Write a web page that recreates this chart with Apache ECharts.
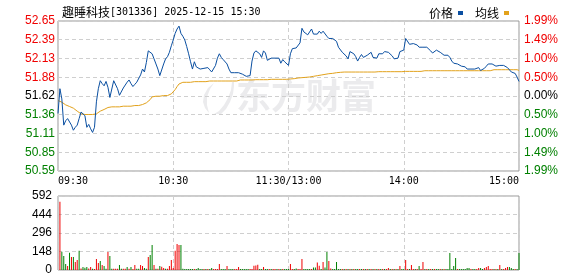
<!DOCTYPE html>
<html><head><meta charset="utf-8">
<script src="https://cdn.jsdelivr.net/npm/echarts@6/dist/echarts.min.js"></script>
<style>html,body{margin:0;padding:0;background:#fff}#c{width:578px;height:276px}</style>
</head><body><div id="c"></div>
<script>
const stockName = '趣睡科技';
const stockMeta = '[301336] 2025-12-15 15:30';
const seriesNames = ['价格', '均线'];
const watermarkText = '东方财富';
const timeLabels = ['09:30', '10:30', '11:30/13:00', '14:00', '15:00'];
const priceTicks = ['50.59', '50.85', '51.11', '51.36', '51.62', '51.88', '52.13', '52.39', '52.65'];
const pctTicks = ['1.99%', '1.49%', '1.00%', '0.50%', '0.00%', '0.50%', '1.00%', '1.49%', '1.99%'];
const volTicks = ['0', '148', '296', '444', '592'];
const prevClose = 51.62;
const priceMin = 50.59, priceMax = 52.65;
const pctMin = -1.99, pctMax = 1.99;
const volMax = 592;

const price = [
51.38,51.72,51.58,51.22,51.28,51.31,51.31,51.22,51.15,51.19,
51.22,51.31,51.40,51.40,51.35,51.19,51.23,51.17,51.12,51.19,
51.54,51.72,51.83,51.79,51.76,51.82,51.74,51.60,51.58,51.83,
51.85,51.72,51.63,51.64,51.73,51.74,51.81,51.84,51.79,51.75,
51.78,51.81,51.82,51.91,51.99,51.95,52.08,52.24,52.22,52.20,
52.13,52.06,51.99,51.90,51.89,52.06,52.13,52.16,52.22,52.31,
52.39,52.48,52.54,52.58,52.48,52.44,52.39,52.30,52.20,52.09,
51.99,52.09,52.02,52.03,51.99,51.99,52.00,52.01,52.01,51.98,
51.95,51.94,52.04,52.14,52.20,52.15,52.12,52.10,52.06,51.99,
51.94,51.93,51.94,51.95,51.94,51.94,51.92,51.92,51.89,51.87,
51.90,52.10,52.21,52.24,52.23,52.20,52.15,52.24,52.21,52.11,
52.13,52.14,52.14,52.14,52.12,52.14,52.07,52.12,52.09,52.07,
52.04,52.20,52.27,52.27,52.28,52.30,52.35,52.55,52.50,52.48,
52.46,52.45,52.54,52.47,52.49,52.47,52.51,52.48,52.51,52.49,
52.44,52.41,52.41,52.41,52.39,52.37,52.29,52.27,52.22,52.20,
52.17,52.13,52.23,52.22,52.20,52.16,52.10,52.15,52.19,52.15,
52.15,52.18,52.19,52.22,52.15,52.13,52.14,52.20,52.22,52.20,
52.23,52.25,52.22,52.20,52.17,52.13,52.14,52.14,52.23,52.23,
52.25,52.41,52.42,52.33,52.33,52.34,52.34,52.32,52.29,52.29,
52.29,52.29,52.29,52.29,52.24,52.21,52.23,52.25,52.23,52.22,
52.21,52.18,52.18,52.18,52.15,52.10,52.07,52.06,52.06,52.04,
52.03,52.03,52.02,51.99,51.97,51.99,51.99,51.99,52.00,52.01,
51.97,51.99,52.00,52.03,52.06,52.07,52.06,52.04,52.03,52.03,
52.04,52.04,52.04,52.04,52.01,51.99,51.95,51.94,51.93,51.88,
51.82
];

const avgPrice = [
51.558,51.544,51.535,51.517,51.498,51.489,51.476,51.462,51.453,51.435,
51.412,51.389,51.375,51.366,51.366,51.366,51.366,51.366,51.366,51.366,
51.375,51.394,51.412,51.421,51.435,51.448,51.462,51.466,51.471,51.471,
51.471,51.471,51.471,51.471,51.480,51.480,51.480,51.480,51.480,51.489,
51.489,51.489,51.489,51.498,51.503,51.512,51.526,51.544,51.571,51.608,
51.617,51.617,51.617,51.617,51.617,51.626,51.626,51.626,51.635,51.649,
51.671,51.708,51.749,51.785,51.808,51.808,51.808,51.808,51.808,51.808,
51.808,51.817,51.817,51.817,51.817,51.817,51.817,51.817,51.817,51.826,
51.826,51.826,51.826,51.826,51.826,51.826,51.826,51.826,51.826,51.826,
51.826,51.826,51.826,51.826,51.826,51.840,51.840,51.840,51.840,51.840,
51.840,51.840,51.844,51.844,51.844,51.844,51.844,51.844,51.844,51.844,
51.844,51.849,51.849,51.849,51.849,51.849,51.849,51.849,51.849,51.849,
51.849,51.854,51.858,51.858,51.863,51.867,51.867,51.872,51.872,51.876,
51.876,51.881,51.885,51.890,51.894,51.899,51.904,51.908,51.913,51.917,
51.922,51.926,51.931,51.931,51.935,51.940,51.940,51.945,51.949,51.949,
51.949,51.949,51.949,51.949,51.949,51.949,51.949,51.949,51.949,51.949,
51.949,51.949,51.949,51.949,51.949,51.949,51.954,51.954,51.954,51.954,
51.954,51.954,51.954,51.954,51.954,51.954,51.954,51.954,51.954,51.954,
51.954,51.958,51.958,51.958,51.958,51.958,51.958,51.958,51.958,51.958,
51.958,51.967,51.967,51.967,51.967,51.967,51.967,51.967,51.967,51.967,
51.967,51.967,51.967,51.967,51.967,51.967,51.967,51.967,51.967,51.967,
51.967,51.967,51.967,51.967,51.967,51.967,51.967,51.967,51.967,51.967,
51.967,51.967,51.967,51.967,51.967,51.967,51.981,51.981,51.981,51.981,
51.981,51.981,51.981,51.981,51.981,51.981,51.981,51.981,51.981,51.981,
51.972
];

const volume = [
0,
547,147,112,48,32,139,104,104,64,80,
155,13,24,19,24,13,24,11,8,88,
56,72,40,32,11,145,113,11,11,11,
11,40,11,11,11,24,11,24,8,40,
11,11,40,32,16,11,105,120,201,40,
11,11,32,27,16,11,11,32,80,16,
155,208,200,200,11,8,8,8,8,8,
8,8,16,8,8,8,8,8,8,16,
8,8,8,48,8,8,8,32,8,8,
8,8,8,24,8,8,8,8,8,8,
8,35,37,43,8,8,24,8,8,8,
8,8,8,8,8,8,8,8,8,8,
48,8,8,13,8,8,88,8,8,8,
8,8,21,21,61,35,8,64,21,144,
72,13,8,8,64,8,8,8,8,8,
8,8,8,8,8,8,8,8,8,8,
8,8,8,8,8,8,8,8,8,8,
8,16,8,8,8,8,8,32,8,8,
80,8,8,40,8,8,8,32,8,64,
8,8,8,8,8,8,8,8,8,8,
8,8,8,136,8,32,96,8,8,8,
8,8,16,16,8,8,8,8,16,16,
8,16,24,32,8,8,8,8,8,40,
8,8,16,24,24,16,8,8,8,136
];

const volDir = [
1,
1,-1,-1,-1,1,-1,1,-1,1,1,
-1,1,-1,-1,-1,1,1,-1,1,1,
1,-1,1,-1,-1,1,-1,-1,1,1,
1,-1,-1,1,1,-1,1,-1,1,1,
-1,-1,1,1,-1,-1,1,-1,-1,1,
-1,1,-1,1,1,-1,1,1,1,1,
1,1,1,-1,-1,-1,-1,-1,-1,-1,
1,-1,-1,-1,-1,1,-1,1,-1,-1,
1,1,1,1,-1,-1,-1,1,-1,-1,
-1,1,1,1,-1,-1,-1,-1,-1,1,
1,1,1,1,-1,-1,1,-1,-1,1,
-1,1,1,-1,1,-1,1,-1,-1,-1,
1,1,-1,-1,1,1,1,-1,-1,-1,
-1,1,-1,-1,1,1,-1,1,-1,-1,
1,1,-1,-1,-1,-1,-1,1,-1,1,
-1,1,-1,1,-1,-1,1,-1,1,-1,
1,-1,1,-1,1,-1,1,-1,1,-1,
1,1,-1,1,-1,1,-1,1,-1,-1,
1,1,-1,1,1,-1,1,-1,1,1,
-1,1,-1,1,-1,1,-1,-1,1,-1,
1,-1,-1,-1,-1,-1,-1,1,-1,-1,
-1,-1,-1,-1,1,-1,-1,1,1,-1,
-1,1,1,1,1,1,-1,1,-1,1,
-1,1,1,1,-1,-1,-1,1,-1,-1
];

const RED = '#f00000', GREEN = '#008000', BLUE = '#0a4fa1', ORANGE = '#e2a21c';
const priceStep = (priceMax - priceMin) / 8;
const pctStep = (pctMax - pctMin) / 8;

const chart = echarts.init(document.getElementById('c'), null, {renderer: 'canvas'});
const split = {show: true, lineStyle: {color: '#cfcfcf', type: [4, 3], width: 1}};
const lblFont = 'Liberation Sans, Arial, sans-serif';
const monoFont = 'DejaVu Sans Mono, monospace';
const cjkFont = 'Noto Sans CJK SC, sans-serif';

chart.setOption({
  animation: false,
  backgroundColor: '#fff',
  title: {
    text: '{a|' + stockName + '}{b|' + stockMeta + '}',
    left: 57, top: 1,
    textStyle: {rich: {
      a: {fontFamily: cjkFont, fontSize: 12, fontWeight: 'normal', color: '#000'},
      b: {fontFamily: monoFont, fontSize: 10, fontWeight: 'normal', color: '#000'}
    }}
  },
  legend: {
    data: seriesNames, right: 64, top: 2, align: 'right', icon: 'rect',
    itemWidth: 5, itemHeight: 4, itemGap: 12, selectedMode: false,
    textStyle: {fontFamily: cjkFont, fontSize: 12, color: '#000'}
  },
  graphic: [
    {type: 'polygon', z: 0, silent: true,
      shape: {points: [[214,83],[208,88],[204,95],[203,102],[205,108],[209,113],[207,105],[207,97],[210,89]]},
      style: {fill: '#ebebed'}},
    {type: 'polygon', z: 0, silent: true,
      shape: {points: [[232,82],[231,90],[228,98],[224,105],[219,111],[214,114],[221,114],[226,109],[230,102],[233,94],[234,86],[234,82]]},
      style: {fill: '#ebebed'}},
    {type: 'text', z: 0, silent: true, left: 236, top: 78,
      style: {text: watermarkText, font: 'bold 35px "Noto Sans CJK SC"', fill: '#ebebed'}}
  ],
  grid: [
    {left: 58, width: 461, top: 21, height: 150, show: true, borderColor: '#999', borderWidth: 1, backgroundColor: 'transparent'},
    {left: 58, width: 461, top: 196, height: 74, show: true, borderColor: '#999', borderWidth: 1, backgroundColor: 'transparent'}
  ],
  xAxis: [
    {type: 'value', gridIndex: 0, min: 0, max: 240, interval: 60,
      axisLine: {show: false}, axisTick: {show: false}, splitLine: split,
      axisLabel: {margin: 5, fontFamily: monoFont, fontSize: 10, color: '#000',
        alignMinLabel: 'left', alignMaxLabel: 'right',
        formatter: v => timeLabels[Math.round(v / 60)]}},
    {type: 'value', gridIndex: 1, min: 0, max: 240, interval: 60,
      axisLine: {show: false}, axisTick: {show: false}, splitLine: split,
      axisLabel: {show: false}}
  ],
  yAxis: [
    {type: 'value', gridIndex: 0, position: 'left', min: priceMin, max: priceMax, interval: priceStep,
      axisLine: {show: false}, axisTick: {show: false}, splitLine: split,
      axisLabel: {margin: 3, fontFamily: lblFont, fontSize: 12,
        formatter: v => priceTicks[Math.round((v - priceMin) / priceStep)],
        color: v => { const k = Math.round((v - priceMin) / priceStep); return k > 4 ? RED : (k < 4 ? GREEN : '#000'); }}},
    {type: 'value', gridIndex: 0, position: 'right', min: pctMin, max: pctMax, interval: pctStep,
      axisLine: {show: false}, axisTick: {show: false}, splitLine: {show: false},
      axisLabel: {margin: 5, fontFamily: lblFont, fontSize: 12,
        formatter: v => pctTicks[Math.round((v - pctMin) / pctStep)],
        color: v => { const k = Math.round((v - pctMin) / pctStep); return k > 4 ? RED : (k < 4 ? GREEN : '#000'); }}},
    {type: 'value', gridIndex: 1, position: 'left', min: 0, max: volMax, interval: volMax / 4,
      axisLine: {show: false}, axisTick: {show: false}, splitLine: split,
      axisLabel: {margin: 6, fontFamily: lblFont, fontSize: 12, color: '#000',
        formatter: v => volTicks[Math.round(v / (volMax / 4))]}}
  ],
  series: [
    {name: seriesNames[1], type: 'line', xAxisIndex: 0, yAxisIndex: 0, showSymbol: false, z: 3,
      data: avgPrice.map((v, i) => [i, v]),
      lineStyle: {color: ORANGE, width: 1}, itemStyle: {color: ORANGE}},
    {name: seriesNames[0], type: 'line', xAxisIndex: 0, yAxisIndex: 0, showSymbol: false, z: 4,
      data: price.map((v, i) => [i, v]),
      lineStyle: {color: BLUE, width: 1}, itemStyle: {color: BLUE}},
    {name: 'vol', type: 'bar', xAxisIndex: 1, yAxisIndex: 2, barWidth: 1,
      data: volume.map((v, i) => ({value: [i, v], itemStyle: {color: volDir[i] > 0 ? RED : GREEN}}))}
  ]
});
</script></body></html>
